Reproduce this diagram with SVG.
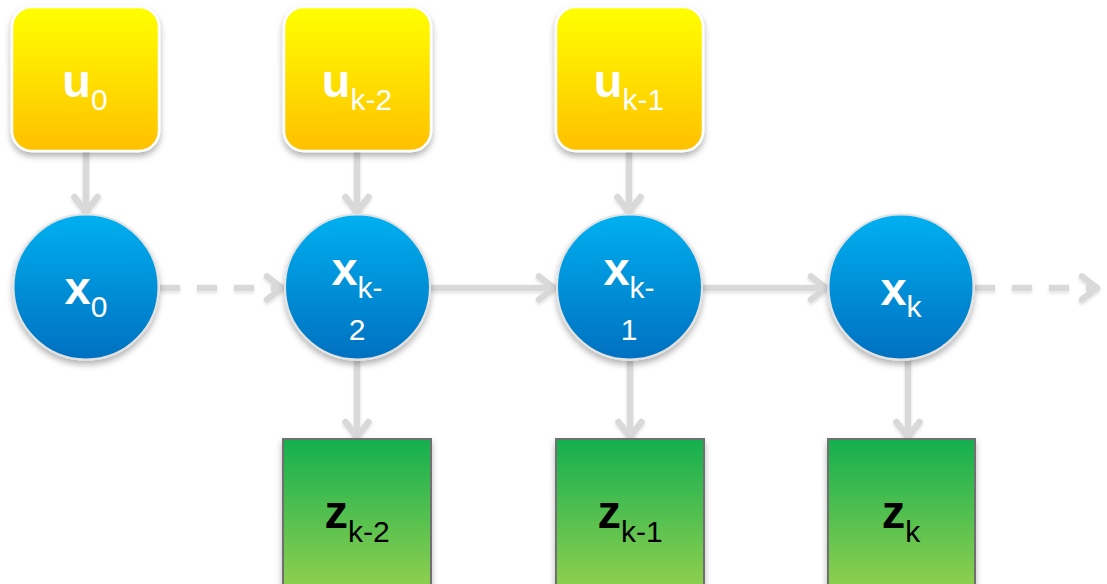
<svg xmlns="http://www.w3.org/2000/svg" width="1107" height="584" viewBox="0 0 1107 584">
<defs>
<linearGradient id="gy" x1="0" y1="0" x2="0" y2="1"><stop offset="0" stop-color="#FFFF00"/><stop offset="1" stop-color="#FFC000"/></linearGradient>
<linearGradient id="gb" x1="0" y1="0" x2="0" y2="1"><stop offset="0" stop-color="#00B0F0"/><stop offset="1" stop-color="#0070C0"/></linearGradient>
<linearGradient id="gg" x1="0" y1="0" x2="0" y2="1"><stop offset="0" stop-color="#14AF4F"/><stop offset="1" stop-color="#92D050"/></linearGradient>
<filter id="sh" x="-20%" y="-20%" width="140%" height="140%"><feDropShadow dx="0" dy="4" stdDeviation="3" flood-color="#000" flood-opacity="0.3"/></filter>
<filter id="ls" x="-10%" y="-30%" width="120%" height="160%"><feDropShadow dx="0" dy="2" stdDeviation="1.5" flood-color="#000" flood-opacity="0.12"/></filter>
<marker id="ah" markerUnits="userSpaceOnUse" viewBox="-24 -18 28 36" refX="0" refY="0" markerWidth="28" markerHeight="36" orient="auto">
<path d="M-17,-11.5 L-2,0 L-17,11.5" fill="none" stroke="#D9D9D9" stroke-width="6.5" stroke-linejoin="round" stroke-linecap="round"/>
</marker>
<style>
.yb{fill:url(#gy);stroke:#fff;stroke-width:2.5;filter:url(#sh)}
.bc{fill:url(#gb);stroke:#e2e2e2;stroke-width:2;filter:url(#sh)}
.gb{fill:url(#gg);stroke:#707070;stroke-width:2;filter:url(#sh)}
.cn{stroke:#D9D9D9;stroke-width:6.5;fill:none;marker-end:url(#ah)}
.ds{stroke-dasharray:20 17}
.lb{font-family:"Liberation Sans",Arial,sans-serif;text-anchor:middle}
.w{fill:#fff}
.k{fill:#000}
.m{font-size:47px;font-weight:bold}
.s{font-size:30px}
</style>
</defs>
<g id="connectors" filter="url(#ls)">
<line class="cn" x1="86" y1="151" x2="86" y2="214"/>
<line class="cn" x1="357" y1="151" x2="357" y2="214"/>
<line class="cn" x1="629" y1="151" x2="629" y2="214"/>
<line class="cn ds" x1="160" y1="288" x2="284" y2="288"/>
<line class="cn" x1="431" y1="288" x2="556" y2="288"/>
<line class="cn" x1="703" y1="288" x2="828" y2="288"/>
<line class="cn ds" x1="975" y1="288" x2="1099" y2="288"/>
<line class="cn" x1="357" y1="361" x2="357" y2="439"/>
<line class="cn" x1="630" y1="361" x2="630" y2="439"/>
<line class="cn" x1="908" y1="361" x2="908" y2="439"/>
</g>
<g id="u0"><rect class="yb" x="12" y="7" width="147" height="144" rx="20"/><text class="lb w" x="85" y="97"><tspan class="m">u</tspan><tspan class="s" dy="13">0</tspan></text></g>
<g id="uk2"><rect class="yb" x="284" y="7" width="147" height="144" rx="20"/><text class="lb w" x="357" y="97"><tspan class="m">u</tspan><tspan class="s" dy="13">k-2</tspan></text></g>
<g id="uk1"><rect class="yb" x="556" y="7" width="147" height="144" rx="20"/><text class="lb w" x="629" y="97"><tspan class="m">u</tspan><tspan class="s" dy="13">k-1</tspan></text></g>
<g id="x0"><circle class="bc" cx="86" cy="287" r="72.5"/><text class="lb w" x="86" y="304"><tspan class="m">x</tspan><tspan class="s" dy="13">0</tspan></text></g>
<g id="xk2"><circle class="bc" cx="357.5" cy="287" r="72.5"/><text class="lb w" x="357" y="285"><tspan class="m">x</tspan><tspan class="s" dy="13">k-</tspan></text><text class="lb w s" x="357" y="340">2</text></g>
<g id="xk1"><circle class="bc" cx="629.5" cy="287" r="72.5"/><text class="lb w" x="629" y="285"><tspan class="m">x</tspan><tspan class="s" dy="13">k-</tspan></text><text class="lb w s" x="629" y="340">1</text></g>
<g id="xk"><circle class="bc" cx="901" cy="287" r="72.5"/><text class="lb w" x="901" y="305"><tspan class="m">x</tspan><tspan class="s" dy="12">k</tspan></text></g>
<g id="zk2"><rect class="gb" x="283" y="439" width="148" height="152"/><text class="lb k" x="357" y="528"><tspan class="m">z</tspan><tspan class="s" dy="14">k-2</tspan></text></g>
<g id="zk1"><rect class="gb" x="556" y="439" width="148" height="152"/><text class="lb k" x="630" y="528"><tspan class="m">z</tspan><tspan class="s" dy="14">k-1</tspan></text></g>
<g id="zk"><rect class="gb" x="828" y="439" width="147" height="152"/><text class="lb k" x="901" y="528"><tspan class="m">z</tspan><tspan class="s" dy="14">k</tspan></text></g>
</svg>
